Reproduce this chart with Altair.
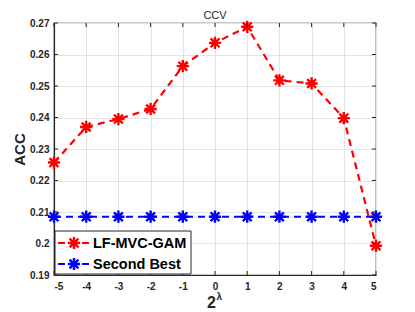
import altair as alt
import pandas as pd

x_vals = [-5, -4, -3, -2, -1, 0, 1, 2, 3, 4, 5]
lf_mvc_gam = [0.2257, 0.2370, 0.2395, 0.2427, 0.2563, 0.2637, 0.2688, 0.2518, 0.2508, 0.2398, 0.1993]
second_best = [0.2085] * 11
series_names = ["LF-MVC-GAM", "Second Best"]
series_colors = ["#ff0000", "#0000ff"]
x_ticks = [-5, -4, -3, -2, -1, 0, 1, 2, 3, 4, 5]
y_ticks = [0.19, 0.20, 0.21, 0.22, 0.23, 0.24, 0.25, 0.26, 0.27]

rows = []
for xv, a, b in zip(x_vals, lf_mvc_gam, second_best):
    rows.append({"x": xv, "y": a, "s": series_names[0]})
    rows.append({"x": xv, "y": b, "s": series_names[1]})
df = pd.DataFrame(rows)

W, H = 322, 252
FONT = "Liberation Sans"
ASTER = "M-1,0L1,0M0,-1L0,1M-0.72,-0.72L0.72,0.72M-0.72,0.72L0.72,-0.72"
AX = "#262626"

xsc = alt.Scale(domain=[-5, 5], nice=False)
ysc = alt.Scale(domain=[0.19, 0.27], nice=False, zero=False)
xaxis = alt.Axis(values=x_ticks, title=None, labelFontWeight="bold",
                 labelExpr="datum.value < 0 ? '-' + abs(datum.value) : '' + datum.value",
                 labelOverlap=False, labelFontSize=10, labelPadding=6, tickSize=0)
yaxis = alt.Axis(values=y_ticks, format=".2~f", title="ACC", titleFontSize=15,
                 titleFontWeight="bold", titlePadding=2, labelFontWeight="bold",
                 labelOverlap=False, labelFontSize=10, labelPadding=5, tickSize=0)

def X(f="x:Q"):
    return alt.X(f, scale=xsc, axis=xaxis)

def Y(f="y:Q"):
    return alt.Y(f, scale=ysc, axis=yaxis)

color = alt.Color("s:N", scale=alt.Scale(domain=series_names, range=series_colors), legend=None)

base = alt.Chart(df)
lines = base.mark_line(strokeDash=[7, 5], strokeWidth=2.2).encode(x=X(), y=Y(), color=color)
pts = base.mark_point(shape=ASTER, size=150, strokeWidth=2.4, filled=False, opacity=1).encode(
    x=X(), y=Y(), color=color)

# inward ticks on all four sides
xt_df = pd.DataFrame({"x": x_ticks})
yt_df = pd.DataFrame({"y": y_ticks})
tick_layers = [
    alt.Chart(xt_df).mark_rule(color=AX, strokeWidth=1).encode(
        x=X(), y=alt.value(0), y2=alt.value(4)),
    alt.Chart(xt_df).mark_rule(color=AX, strokeWidth=1).encode(
        x=X(), y=alt.value(H - 4), y2=alt.value(H)),
    alt.Chart(yt_df).mark_rule(color=AX, strokeWidth=1).encode(
        y=Y(), x=alt.value(0), x2=alt.value(4)),
    alt.Chart(yt_df).mark_rule(color=AX, strokeWidth=1).encode(
        y=Y(), x=alt.value(W - 4), x2=alt.value(W)),
]

# legend
leg_box = alt.Chart(pd.DataFrame({"a": [0]})).mark_rect(
    fill="white", stroke=AX, strokeWidth=1).encode(
    x=alt.value(1), x2=alt.value(137), y=alt.value(208), y2=alt.value(251))
leg_layers = [leg_box]
for i, (name, col) in enumerate(zip(series_names, series_colors)):
    yy = 220 + i * 21
    d = pd.DataFrame({"n": [name]})
    leg_layers.append(alt.Chart(d).mark_rule(color=col, strokeWidth=2.2, strokeDash=[7, 5]).encode(
        x=alt.value(4), x2=alt.value(38), y=alt.value(yy)))
    leg_layers.append(alt.Chart(d).mark_point(shape=ASTER, size=150, strokeWidth=2.4, color=col,
                                              filled=False, opacity=1).encode(
        x=alt.value(20), y=alt.value(yy)))
    leg_layers.append(alt.Chart(d).mark_text(align="left", baseline="middle", fontSize=14.5,
                                             fontWeight="bold", font=FONT, color="black").encode(
        x=alt.value(39), y=alt.value(yy + 1), text="n:N"))

# texts: title and x-axis title 2^lambda
tx = pd.DataFrame({"t": ["2"], "l": ["λ"], "c": ["CCV"]})
title_t = alt.Chart(tx).mark_text(align="center", baseline="alphabetic", fontSize=11,
                                  font=FONT, color=AX).encode(
    x=alt.value(W / 2), y=alt.value(-4), text="c:N")
xt1 = alt.Chart(tx).mark_text(align="left", baseline="alphabetic", fontSize=16, fontWeight="bold",
                              font=FONT, color=AX).encode(
    x=alt.value(153), y=alt.value(285), text="t:N")
xt2 = alt.Chart(tx).mark_text(align="left", baseline="alphabetic", fontSize=10, fontWeight="bold",
                              font=FONT, color=AX).encode(
    x=alt.value(162.5), y=alt.value(277), text="l:N")

chart = alt.layer(lines, pts, *tick_layers, *leg_layers, title_t, xt1, xt2).properties(
    width=W, height=H,
    autosize=alt.AutoSizeParams(type="none"),
    padding={"left": 46, "top": 15, "right": 30, "bottom": 36},
).configure_view(stroke=AX, strokeWidth=1.2).configure_axis(
    labelFont=FONT, titleFont=FONT, labelColor=AX, titleColor=AX, labelOverlap=False,
    domainColor=AX, domainWidth=1.2, gridColor="#e3e3e3", gridWidth=1, grid=True
)

chart.save("out.html", embed_options={"renderer": "svg", "actions": False})
